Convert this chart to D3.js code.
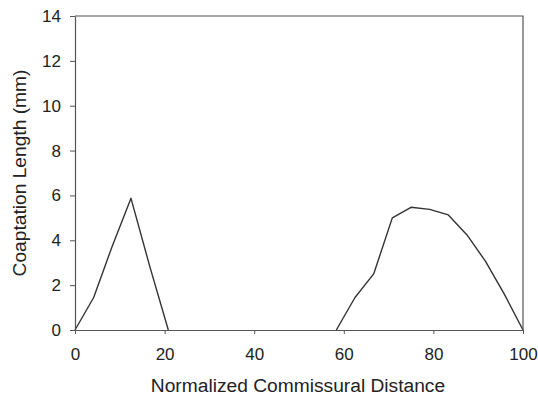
<!DOCTYPE html>
<html>
<head>
<meta charset="utf-8">
<script src="https://cdn.jsdelivr.net/npm/d3@7"></script>
<style>
  html, body { margin: 0; padding: 0; background: #fff; }
  svg { display: block; font-family: "Liberation Sans", Arial, sans-serif; }
</style>
</head>
<body>
<svg id="chart" width="538" height="402"></svg>
<script>
// Coaptation length along the normalized commissural distance
const distance = [0, 4.17, 8.33, 12.5, 16.67, 20.83, 25, 29.17, 33.33, 37.5, 41.67, 45.83, 50,
  54.17, 58.33, 62.5, 66.67, 70.83, 75, 79.17, 83.33, 87.5, 91.67, 95.83, 100];
const coaptation = [0, 1.45, 3.75, 5.87, 2.85, 0, 0, 0, 0, 0, 0, 0, 0,
  0, 0, 1.45, 2.5, 5.0, 5.47, 5.38, 5.13, 4.24, 3.05, 1.6, 0];
const xTicks = [0, 20, 40, 60, 80, 100];
const yTicks = [0, 2, 4, 6, 8, 10, 12, 14];
const xTitle = "Normalized Commissural Distance";
const yTitle = "Coaptation Length (mm)";

const svg = d3.select("#chart");
const m = { left: 75, right: 15, top: 16, bottom: 72 };
const W = 538, H = 402;
const x = d3.scaleLinear().domain([0, 100]).range([m.left, W - m.right]);
const y = d3.scaleLinear().domain([0, 14]).range([H - m.bottom, m.top]);

const axisColor = "#555";
const textColor = "#222";

// data line; runs of zero inside the range lie on the x axis and are left to the axis
const onAxis = i => coaptation[i] === 0 &&
  (i === 0 || coaptation[i - 1] === 0) && (i === coaptation.length - 1 || coaptation[i + 1] === 0);
const line = d3.line()
  .defined((d, i) => !onAxis(i))
  .x((d, i) => x(distance[i]))
  .y(d => y(d));
svg.append("path")
  .datum(coaptation)
  .attr("d", line)
  .attr("fill", "none")
  .attr("stroke", "#333")
  .attr("stroke-width", 1.4)
  .attr("stroke-linejoin", "round");

// frame (top and right edges)
svg.append("path")
  .attr("d", `M${x(0)},${y(14)}H${x(100)}V${y(0)}`)
  .attr("fill", "none").attr("stroke", axisColor).attr("stroke-width", 1.2);

const xAxis = svg.append("g")
  .attr("transform", `translate(0,${y(0)})`)
  .call(d3.axisBottom(x).tickValues(xTicks).tickSize(4).tickPadding(14).tickSizeOuter(0));
const yAxis = svg.append("g")
  .attr("transform", `translate(${x(0)},0)`)
  .call(d3.axisLeft(y).tickValues(yTicks).tickSize(5).tickPadding(9).tickSizeOuter(0));

[xAxis, yAxis].forEach(g => {
  g.select(".domain").attr("stroke", axisColor).attr("stroke-width", 1.2);
  g.selectAll(".tick line").attr("stroke", axisColor).attr("stroke-width", 1);
  g.selectAll(".tick text").attr("fill", textColor)
    .style("font-size", "17px").style("font-family", "Liberation Sans, Arial, sans-serif");
});

// axis titles
svg.append("text")
  .attr("x", (x(0) + x(100)) / 2 - 1)
  .attr("y", 392)
  .attr("text-anchor", "middle")
  .attr("fill", textColor)
  .style("font-size", "19.2px")
  .text(xTitle);

svg.append("text")
  .attr("transform", `translate(25.5,${(y(0) + y(14)) / 2}) rotate(-90)`)
  .attr("text-anchor", "middle")
  .attr("fill", textColor)
  .style("font-size", "19.2px")
  .text(yTitle);
</script>
</body>
</html>
